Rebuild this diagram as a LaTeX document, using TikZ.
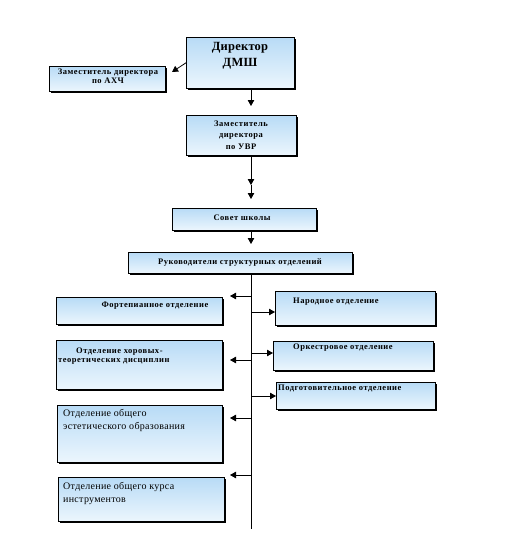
\documentclass[tikz,border=0pt]{standalone}
\usepackage{fontspec}
\setmainfont{Liberation Serif}
\usetikzlibrary{arrows.meta,shadows,calc}
\definecolor{boxtop}{RGB}{184,219,246}
\definecolor{boxbot}{RGB}{236,246,253}
\tikzset{
  box/.style={draw=black, line width=0.6pt, top color=boxtop, bottom color=boxbot,
    drop shadow={shadow xshift=2pt, shadow yshift=-2pt, fill=black, opacity=1},
    inner sep=0pt, anchor=north west},
  arr/.style={line width=0.8pt, -{Triangle[length=6pt,width=6.5pt]}},
  conn/.style={line width=0.8pt},
  bt/.style={font=\fontsize{8.5}{9}\selectfont\bfseries\addfontfeature{LetterSpace=6}, inner sep=0pt},
  bigt/.style={font=\fontsize{12.5}{16}\selectfont\bfseries\addfontfeature{LetterSpace=2}, inner sep=0pt},
  rt/.style={font=\fontsize{10}{13}\selectfont\addfontfeature{LetterSpace=3}, inner sep=0pt},
}
\begin{document}
\begin{tikzpicture}[x=1pt,y=-1pt]
\useasboundingbox (0,0) rectangle (525,550);
% boxes
\node[box, minimum width=108pt, minimum height=51pt] (dir) at (186,37) {};
\node[box, minimum width=116pt, minimum height=25pt] (axch) at (49,66) {};
\node[box, minimum width=110pt, minimum height=40pt] (uvr) at (186,115) {};
\node[box, minimum width=144pt, minimum height=22pt] (sov) at (172,208) {};
\node[box, minimum width=224pt, minimum height=21pt] (ruk) at (128,252) {};
\node[box, minimum width=166pt, minimum height=27pt] (fort) at (56,297) {};
\node[box, minimum width=160pt, minimum height=34pt] (nar) at (275,291) {};
\node[box, minimum width=166pt, minimum height=49pt] (hor) at (56,340) {};
\node[box, minimum width=160pt, minimum height=29pt] (ork) at (273,341) {};
\node[box, minimum width=159pt, minimum height=27pt] (pod) at (276,382) {};
\node[box, minimum width=165pt, minimum height=57pt] (est) at (57,405) {};
\node[box, minimum width=166pt, minimum height=44pt] (kurs) at (58,477) {};
% texts
\node[bigt, align=center] (dirt) at (240,56) {Директор\\ДМШ};
\node[bt, align=center] (axcht) at (108,76) {Заместитель директора\\по АХЧ};
\node[bt, align=center, font=\fontsize{8.5}{11.5}\selectfont\bfseries\addfontfeature{LetterSpace=6}] (uvrt) at (241,135) {Заместитель\\директора\\по УВР};
\node[bt] (sovt) at (242,218) {Совет школы};
\node[bt] (rukt) at (240,262) {Руководители структурных отделений};
\node[bt] (fortt) at (155,306) {Фортепианное отделение};
\node[bt, anchor=west] (nart) at (293,302) {Народное отделение};
\node[bt, anchor=north west, align=left] (hort) at (58,348) {\hspace*{18pt}Отделение хоровых-\\теоретических дисциплин};
\node[bt, anchor=west] (orkt) at (293,348) {Оркестровое отделение};
\node[bt, anchor=west] (podt) at (278,388) {Подготовительное отделение};
\node[rt, anchor=north west, align=left] (estt) at (63,409) {Отделение общего\\эстетического образования};
\node[rt, anchor=north west, align=left] (kurst) at (63,482) {Отделение общего курса\\инструментов};
% spine coordinates
\coordinate (sp) at (251,0);
\coordinate (a1) at (172,72);
\coordinate (d1) at (251,106);
\coordinate (m1) at (251,185);
\coordinate (m2) at (251,199);
\coordinate (s1) at (251,244);
\coordinate (bot) at (251,529);
% connectors
\draw[arr] (dir.west) -- (a1);
\draw[arr] (dir.south -| sp) -- (d1);
\draw[arr] (uvr.south -| sp) -- (m1);
\draw[arr] (m1) -- (m2);
\draw[arr] (sov.south -| sp) -- (s1);
\draw[conn] (ruk.south -| sp) -- (bot);
% left branches
\coordinate (l1) at (230,296);
\coordinate (l2) at (230,360);
\coordinate (l3) at (230,418);
\coordinate (l4) at (230,475);
\draw[arr] (sp |- l1) -- (l1);
\draw[arr] (sp |- l2) -- (l2);
\draw[arr] (sp |- l3) -- (l3);
\draw[arr] (sp |- l4) -- (l4);
% right branches
\coordinate (r1) at (0,312);
\coordinate (r2) at (0,353);
\coordinate (r3) at (0,396);
\draw[arr] (sp |- r1) -- (nar.west |- r1);
\draw[arr] (sp |- r2) -- (ork.west |- r2);
\draw[arr] (sp |- r3) -- (pod.west |- r3);
\end{tikzpicture}
\end{document}
